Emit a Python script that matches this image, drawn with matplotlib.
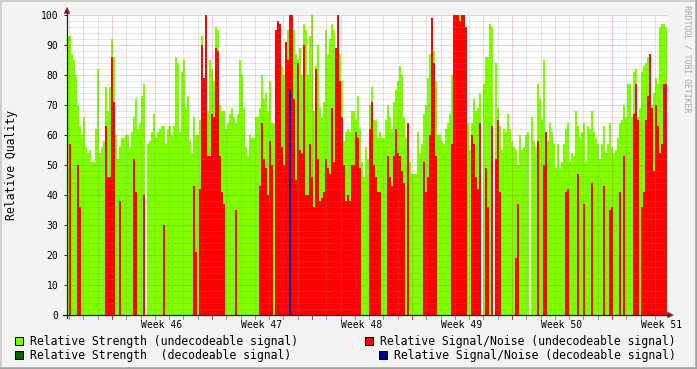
import numpy as np
import matplotlib
matplotlib.use("Agg")
import matplotlib.pyplot as plt
from matplotlib.patches import Rectangle, Polygon
from matplotlib.lines import Line2D
import matplotlib.transforms as mtrans

nan = np.nan

# ---------------- data (one value per time slot, 300 slots over 42 days) ----------------
strength_undec = [
    93, 93, 87, 85, 80, 70, 63, 60, 66, 56,
    54, 55, 51, 51, 62, 82, 54, 56, 58, 76,
    68, 76, 92, 86, 60, 52, 56, 59, 59, 60,
    60, 56, 61, 66, 72, 62, 64, 73, 77, nan,
    57, 58, 61, 67, 59, 61, 62, 63,
    63, 57, 62, 63, 60, 63, 86, 84, 61, 81,
    85, 69, 73, 58, 54, 66, 60, 60, 65, 93,
    79, 100, 68, 85, 82, 78, 96, 95, 70, 68,
    68, 62, 64, 67, 69, 66, 64, 67, 85, 80,
    69, 56, 53, 60, 59, 59, 66, 66, 69, 80,
    72, 74, 68, 78, 64, 64, 95, 98, 97, 83,
    80, 91, 95, 100, 100, 95, 87, 85, 89, 80,
    97, 95, 80, 93, 100, 68, 83, 90, 69, 66,
    71, 95, 87, 92, 97, 95, 86, 100, 87, 78,
    58, 61, 62, 61, 68, 68, 65, 73, 62, 51,
    46, 56, 52, 70, 76, 65, 65, 59, 61, 59,
    59, 65, 70, 66, 62, 71, 75, 78, 83, 80,
    66, 59, 64, 51, 47, 47, 47, 61, 54, 57,
    67, 70, 79, 87, 99, 88, 78, 60, 60, 58,
    57, 62, 64, 67, 80, 100, 100, 100, 100, 100,
    100, 96, 64, 55, 64, 72, 68, 69, 74, nan,
    77, 86, 86, 97, 96, nan, 84, 69, 63, 55,
    62, 61, 67, 62, 58, 56, 55, 50, 60, 55,
    56, 60, 61, nan, 66, 58, 56, 77, 72, 65,
    85, 60, 58, 64, 61, 57, 49, 57, 49, 51,
    57, 62, 64, 51, 54, 53, 68, 63, 59, 61,
    64, 51, 63, 62, 68, 61, 59, 57, 52, 57,
    63, 54, 57, 64, 56, 54, 55, 59, 64, 65,
    70, 66, 77, 77, 66, 81, 82, 66, 69, 81,
    83, 84, 86, 82, 70, 74, 79, 77, 96, 97,
    97, 96,
]

snr_undec = [
    0, 57, 0, 0, 0, 50, 36, 0, 0, 0,
    0, 0, 0, 0, 0, 0, 0, 0, 0, 63,
    46, 46, 86, 71, 0, 0, 38, 0, 0, 0,
    0, 0, 0, 52, 41, 0, 0, 0, 40, nan,
    0, 0, 0, 0, 0, 0, 0, 0,
    30, 0, 0, 0, 0, 0, 0, 0, 0, 0,
    0, 0, 0, 0, 0, 43, 21, 0, 42, 90,
    79, 100, 53, 53, 67, 66, 89, 88, 53, 41,
    37, 0, 0, 0, 0, 0, 35, 0, 0, 0,
    0, 0, 0, 0, 0, 0, 0, 0, 43, 64,
    52, 49, 40, 58, 50, 0, 95, 98, 97, 56,
    50, 91, 85, 100, 100, 72, 45, 84, 55, 54,
    90, 40, 40, 57, 46, 36, 82, 52, 38, 39,
    41, 52, 49, 47, 69, 51, 89, 100, 78, 66,
    50, 38, 40, 38, 50, 50, 61, 59, 49, 0,
    0, 0, 0, 62, 71, 50, 46, 41, 41, 0,
    0, 0, 53, 46, 43, 53, 62, 54, 53, 48,
    44, 0, 64, 0, 0, 0, 0, 0, 0, 0,
    51, 41, 46, 60, 99, 84, 53, 0, 0, 0,
    0, 0, 0, 0, 57, 100, 100, 100, 98, 100,
    100, 96, 0, 0, 60, 57, 46, 42, 64, nan,
    0, 49, 36, 0, 63, nan, 52, 65, 41, 0,
    0, 0, 0, 0, 0, 0, 19, 37, 0, 0,
    0, 0, 0, nan, 0, 0, 0, 58, 0, 0,
    50, 61, 0, 0, 0, 0, 0, 0, 0, 0,
    0, 41, 42, 0, 0, 0, 0, 47, 0, 0,
    37, 0, 0, 0, 44, 0, 0, 0, 0, 0,
    43, 0, 0, 35, 36, 0, 0, 0, 41, 0,
    53, 0, 0, 0, 0, 67, 77, 65, 0, 36,
    41, 65, 73, 87, 69, 48, 70, 63, 54, 57,
    77, 77,
]

# decodeable signals: sparse (slot index, value)
strength_dec_idx = []
strength_dec_val = []
snr_dec_idx = [111]
snr_dec_val = [75]

week_labels = ["Week 46", "Week 47", "Week 48", "Week 49", "Week 50", "Week 51"]
legend_labels = [
    "Relative Strength (undecodeable signal)",
    "Relative Signal/Noise (undecodeable signal)",
    "Relative Strength  (decodeable signal)",
    "Relative Signal/Noise (decodeable signal)",
]

# ---------------- styling ----------------
C_GREEN = "#80FF00"
C_RED = "#FF0000"
C_DGREEN = "#006600"
C_BLUE = "#000099"
C_BACK = "#F3F3F3"
C_AXIS = "#1f2040"
C_ARROW = "#8B1A1A"
FONT = "DejaVu Sans Mono"

W, H = 697, 369
fig = plt.figure(figsize=(W / 100, H / 100), dpi=100, facecolor=C_BACK)


def P(x, y):
    return (x / W, 1 - y / H)


AX_L, AX_R, AX_T, AX_B = 67, 667, 15, 315
ax = fig.add_axes([AX_L / W, 1 - AX_B / H, (AX_R - AX_L) / W, (AX_B - AX_T) / H])
ax.set_facecolor("white")

n = len(strength_undec)
span_days = 42.0
step = span_days / n
x_left = np.arange(n) * step

g = np.nan_to_num(np.array(strength_undec, dtype=float))
r = np.nan_to_num(np.array(snr_undec, dtype=float))
kw = dict(width=step, align="edge", linewidth=0, antialiased=False)
ax.bar(x_left, g, color=C_GREEN, zorder=1, **kw)
ax.bar(x_left, r, color=C_RED, zorder=1.1, **kw)
if strength_dec_idx:
    ax.bar(np.array(strength_dec_idx) * step, strength_dec_val, color=C_DGREEN, zorder=1.2, **kw)
if snr_dec_idx:
    ax.bar(np.array(snr_dec_idx) * step, snr_dec_val, color=C_BLUE, zorder=1.3, **kw)

ax.set_xlim(0, span_days)
ax.set_ylim(0, 100)

# grid
week0 = 3.15
day_lines = np.arange(week0 % 1.0, span_days, 1.0)
week_lines = np.arange(week0, span_days, 7.0)
dash = (0, (1, 1))
lw = 0.72
for d in day_lines:
    if np.min(np.abs(week_lines - d)) < 1e-6:
        continue
    ax.axvline(d, color="#8C8C8C", alpha=0.45, lw=lw, ls=dash, zorder=3)
for d in week_lines:
    ax.axvline(d, color="#C83232", alpha=0.45, lw=lw, ls=dash, zorder=3)
for yv in range(2, 101, 2):
    if yv % 10 == 0:
        ax.axhline(yv, color="#C83232", alpha=0.45, lw=lw, ls=dash, zorder=3)
    else:
        ax.axhline(yv, color="#8C8C8C", alpha=0.45, lw=lw, ls=dash, zorder=3)

for s in ax.spines.values():
    s.set_visible(False)
ax.set_xticks([])
ax.set_yticks(range(0, 101, 10))
ax.set_yticklabels([str(v) for v in range(0, 101, 10)], fontfamily=FONT, fontsize=7)
ax.tick_params(axis="y", length=2, width=0.72, pad=4.3, color=C_AXIS)

# x tick marks below axis and week labels
tr = mtrans.blended_transform_factory(ax.transData, fig.transFigure)
for d in day_lines:
    isweek = np.min(np.abs(week_lines - d)) < 1e-6
    ax.add_line(Line2D([d, d], [1 - 316 / H, 1 - 318.5 / H], transform=tr,
                       color="#C83232" if isweek else "#9A9A9A", lw=0.72, clip_on=False))
for i, lab in enumerate(week_labels):
    xd = week0 + 3.5 + 7 * i
    ax.text(xd, 1 - 324.5 / H, lab, transform=tr, ha="center", va="center",
            fontfamily=FONT, fontsize=7, color="black", clip_on=False)

# axes lines + arrows
fig.add_artist(Line2D([P(63, 0)[0], P(668, 0)[0]], [P(0, 315)[1]] * 2, color=C_AXIS, lw=0.9))
fig.add_artist(Line2D([P(67, 0)[0]] * 2, [P(0, 318)[1], P(0, 12)[1]], color=C_AXIS, lw=0.9))
fig.add_artist(Polygon([P(64, 13.5), P(70, 13.5), P(67, 7.5)], closed=True,
                       transform=fig.transFigure, facecolor=C_ARROW, edgecolor=C_ARROW, lw=0.3))
fig.add_artist(Polygon([P(667.5, 312), P(667.5, 318), P(673.5, 315)], closed=True,
                       transform=fig.transFigure, facecolor=C_ARROW, edgecolor=C_ARROW, lw=0.3))

# y label
fig.text(*P(11.5, 165), "Relative Quality", rotation=90, ha="center", va="center",
         fontfamily=FONT, fontsize=8.3, color="black")

# watermark
fig.text(*P(687, 59), "RRDTOOL / TOBI OETIKER", rotation=-90, ha="center", va="center",
         fontfamily=FONT, fontsize=5.9, color="#A8A8A8")

# legend
leg = [
    (15, 341, 30, C_GREEN, legend_labels[0], "left"),
    (365, 341, 380, C_RED, legend_labels[1], "left"),
    (15, 355, 30, C_DGREEN, legend_labels[2], "left"),
    (379, 355, 394, C_BLUE, legend_labels[3], "left"),
]
for sx, cy, tx, col, lab, ha in leg:
    x0, y0 = P(sx, cy + 4)
    fig.add_artist(Rectangle((x0, y0), 8 / W, 8 / H, transform=fig.transFigure,
                             facecolor=col, edgecolor="black", lw=0.72))
    fig.text(*P(tx, cy), lab, ha=ha, va="center", fontfamily=FONT, fontsize=8.3, color="black")

# 3D-ish border
fig.add_artist(Line2D([0, 1], [1 - 0.8 / H] * 2, color="#D0D0D0", lw=1.4))
fig.add_artist(Line2D([0.8 / W] * 2, [0, 1], color="#D0D0D0", lw=1.4))
fig.add_artist(Line2D([0, 1], [1.2 / H] * 2, color="#A0A0A0", lw=1.8))
fig.add_artist(Line2D([1 - 1.2 / W] * 2, [0, 1], color="#A0A0A0", lw=1.8))

fig.savefig("out.png", dpi=100, facecolor=C_BACK)
